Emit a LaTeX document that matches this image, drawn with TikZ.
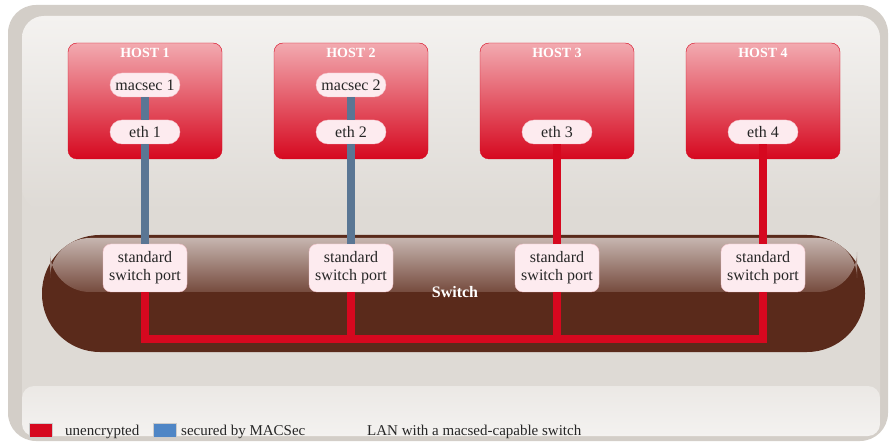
\documentclass[tikz,border=0pt]{standalone}
\usepackage{fontspec}
\setmainfont{Liberation Serif}
\usepackage{tikz}
\usetikzlibrary{positioning, calc}
\definecolor{hostred}{HTML}{D6081F}
\definecolor{hostpink}{HTML}{F2AAB0}
\definecolor{pillpink}{HTML}{FDEBEF}
\definecolor{pillrose}{HTML}{F4C3CB}
\definecolor{linkblue}{HTML}{5A7694}
\definecolor{keyblue}{HTML}{4F86C6}
\definecolor{switchbrown}{HTML}{5A2A1B}
\definecolor{glossbrown}{HTML}{C6B5AF}
\definecolor{glossdark}{HTML}{764B3E}
\definecolor{framegray}{HTML}{D3CEC8}
\definecolor{panelgray}{HTML}{DEDAD5}
\definecolor{panellight}{HTML}{F4F2F0}

\begin{document}
\begin{tikzpicture}[x=1pt, y=-1pt,
  every node/.style={font=\fontsize{15}{17}\selectfont, text=black!85},
  host/.style={rectangle, draw=hostred, rounded corners=9pt, minimum width=154pt, minimum height=116pt, top color=hostpink, middle color=hostred, bottom color=hostred},
  hosttitle/.style={font=\fontsize{14}{16}\selectfont\bfseries, text=white},
  pill/.style={rectangle, draw=pillrose, fill=pillpink, rounded corners=12pt, minimum width=70pt, minimum height=24pt, inner sep=0pt, font=\fontsize{16}{18}\selectfont},
  portbox/.style={rectangle, draw=pillrose, fill=pillpink, rounded corners=8pt, minimum width=84pt, minimum height=48pt, inner sep=0pt, align=center, font=\fontsize{16}{18}\selectfont},
  seclink/.style={line width=8pt, draw=linkblue},
  plainlink/.style={line width=8pt, draw=hostred},
  buslink/.style={line width=8pt, draw=hostred, line join=miter},
  keybox/.style={rectangle, draw=white!60!gray, minimum width=23pt, minimum height=14pt, inner sep=0pt},
  keytext/.style={anchor=base west, inner sep=0pt},
]
  \useasboundingbox (0,0) rectangle (894,446);
  \fill[framegray, rounded corners=28pt] (8,5) rectangle (888,441);
  \fill[panelgray, rounded corners=22pt] (22,16) rectangle (880,436);
  \shade[top color=panellight, bottom color=panelgray, rounded corners=22pt] (22,16) rectangle (880,210);
  \shade[top color=panellight!60!panelgray, bottom color=panellight, rounded corners=12pt] (22,386) rectangle (880,436);

  \node[rectangle, fill=switchbrown, rounded corners=58pt, minimum width=823pt, minimum height=117pt] (switch) at (453.5,293.5) {};
  \shade[top color=glossbrown, bottom color=glossdark, rounded corners=40pt] (50,292) rectangle (857,238);
  \node[hosttitle, font=\fontsize{16}{18}\selectfont\bfseries] (swtitle) at (455,292) {Switch};

  \node[host] (host1) at (145,101) {};
  \node[host] (host2) at (351,101) {};
  \node[host] (host3) at (557,101) {};
  \node[host] (host4) at (763,101) {};
  \node[hosttitle] (h1title) at (145,53) {HOST 1};
  \node[hosttitle] (h2title) at (351,53) {HOST 2};
  \node[hosttitle] (h3title) at (557,53) {HOST 3};
  \node[hosttitle] (h4title) at (763,53) {HOST 4};

  \node[pill] (macsec1) at (145,85) {macsec 1};
  \node[pill] (macsec2) at (351,85) {macsec 2};
  \node[pill] (eth1) at (145,132) {eth 1};
  \node[pill] (eth2) at (351,132) {eth 2};
  \node[pill] (eth3) at (557,132) {eth 3};
  \node[pill] (eth4) at (763,132) {eth 4};

  \node[portbox] (port1) at (145,268) {standard\\switch port};
  \node[portbox] (port2) at (351,268) {standard\\switch port};
  \node[portbox] (port3) at (557,268) {standard\\switch port};
  \node[portbox] (port4) at (763,268) {standard\\switch port};

  \draw[seclink] (macsec1) -- (eth1);
  \draw[seclink] (macsec2) -- (eth2);
  \draw[seclink] (eth1) -- (port1);
  \draw[seclink] (eth2) -- (port2);
  \draw[plainlink] (eth3) -- (port3);
  \draw[plainlink] (eth4) -- (port4);

  \coordinate (busline) at (0,339);
  \draw[buslink] (port1.south) |- (busline -| port4.south) -- (port4.south);
  \draw[buslink] (port2.south) -- (port2.south |- busline);
  \draw[buslink] (port3.south) -- (port3.south |- busline);

  \node[keybox, fill=hostred] (keyred) at (41,430) {};
  \node[keybox, fill=keyblue] (keyblue) at (165,430) {};
  \node[keytext] (keyredtext) at (65,435) {unencrypted};
  \node[keytext] (keybluetext) at (181,435) {secured by MACSec};
  \node[keytext] (caption) at (367,435) {LAN with a macsed-capable switch};
\end{tikzpicture}
\end{document}
